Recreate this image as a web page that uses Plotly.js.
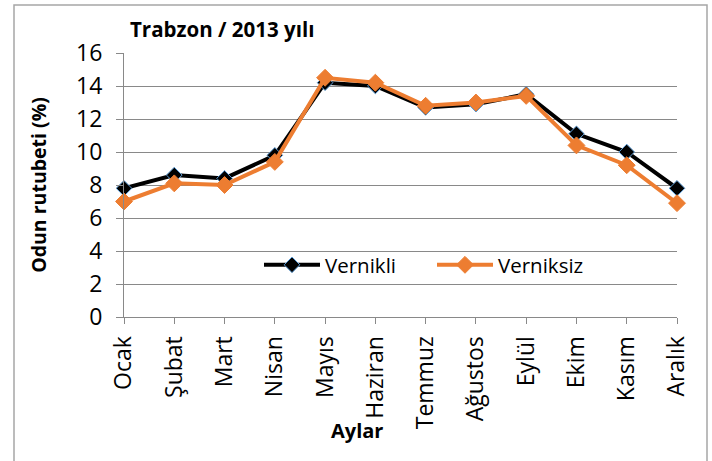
<!DOCTYPE html>
<html>
<head>
<meta charset="utf-8">
<script src="https://cdn.plot.ly/plotly-3.0.1.min.js"></script>
<style>html,body{margin:0;padding:0;background:#fff;}#chart{width:712px;height:461px;}</style>
</head>
<body>
<div id="chart"></div>
<script>
const months = ["Ocak","Şubat","Mart","Nisan","Mayıs","Haziran","Temmuz","Ağustos","Eylül","Ekim","Kasım","Aralık"];
const vernikli = [7.8, 8.6, 8.4, 9.8, 14.2, 14.0, 12.7, 12.9, 13.5, 11.1, 10.0, 7.8];
const verniksiz = [7.0, 8.1, 8.0, 9.4, 14.5, 14.2, 12.8, 13.0, 13.4, 10.4, 9.2, 6.9];
const yTicks = [0, 2, 4, 6, 8, 10, 12, 14, 16];

const FONT = "'Open Sans', sans-serif";

const traces = [
  {
    x: months, y: vernikli, name: "Vernikli", type: "scatter", mode: "lines+markers",
    line: {color: "#000000", width: 4},
    marker: {symbol: "diamond", size: 12, color: "#000000", line: {color: "#5b9bd5", width: 1}},
    cliponaxis: false
  },
  {
    x: months, y: verniksiz, name: "Verniksiz", type: "scatter", mode: "lines+markers",
    line: {color: "#ed7d31", width: 4},
    marker: {symbol: "diamond", size: 13, color: "#ed7d31", line: {color: "#ed7d31", width: 1}},
    cliponaxis: false
  }
];

const layout = {
  width: 712, height: 461,
  margin: {l: 124, r: 35, t: 53, b: 144, pad: 0},
  paper_bgcolor: "#ffffff", plot_bgcolor: "#ffffff",
  font: {family: FONT, size: 22, color: "#000000"},
  title: {
    text: "<b>Trabzon / 2013 yılı</b>",
    font: {family: FONT, size: 20.5, color: "#000000"},
    x: 130/712, xanchor: "left", xref: "container",
    y: 1 - 30/461, yanchor: "middle", yref: "container"
  },
  xaxis: {
    type: "category", range: [0, 11],
    tickangle: -90, ticks: "outside", ticklen: 6, tickcolor: "#898989",
    showline: true, linecolor: "#898989", linewidth: 1,
    showgrid: false, zeroline: false, ticklabelstandoff: 3,
    tickfont: {family: FONT, size: 23, color: "#000000"}
  },
  yaxis: {
    range: [0, 16], tickvals: yTicks,
    ticks: "outside", ticklen: 7, tickcolor: "#898989",
    showline: true, linecolor: "#898989", linewidth: 1,
    showgrid: true, gridcolor: "#898989", gridwidth: 1, zeroline: false,
    ticklabelstandoff: 9,
    tickfont: {family: FONT, size: 23, color: "#000000"},
    title: {text: "<b>Odun rutubeti (%)</b>", font: {family: FONT, size: 19.5, color: "#000000"}, standoff: 24}
  },
  annotations: [
    {text: "<b>Aylar</b>", xref: "paper", yref: "paper",
     x: (357-124)/553, y: (317-430)/264, xanchor: "center", yanchor: "middle",
     showarrow: false, font: {family: FONT, size: 20, color: "#000000"}}
  ],
  showlegend: true,
  legend: {
    orientation: "h", x: (259-124)/553, y: (317-265)/264, xanchor: "left", yanchor: "middle",
    bgcolor: "rgba(255,255,255,0)", font: {family: FONT, size: 20.5, color: "#000000"},
    itemwidth: 56, tracegroupgap: 0, entrywidth: 102, entrywidthmode: "pixels"
  },
  shapes: [
    {type: "rect", xref: "paper", yref: "paper",
     x0: (14-124)/553, x1: (707-124)/553, y0: (317-480)/264, y1: (317-5)/264,
     line: {color: "#a6a6a6", width: 1.5}, fillcolor: "rgba(0,0,0,0)", layer: "below"}
  ]
};

Plotly.newPlot("chart", traces, layout, {displayModeBar: false, staticPlot: true});
</script>
</body>
</html>
